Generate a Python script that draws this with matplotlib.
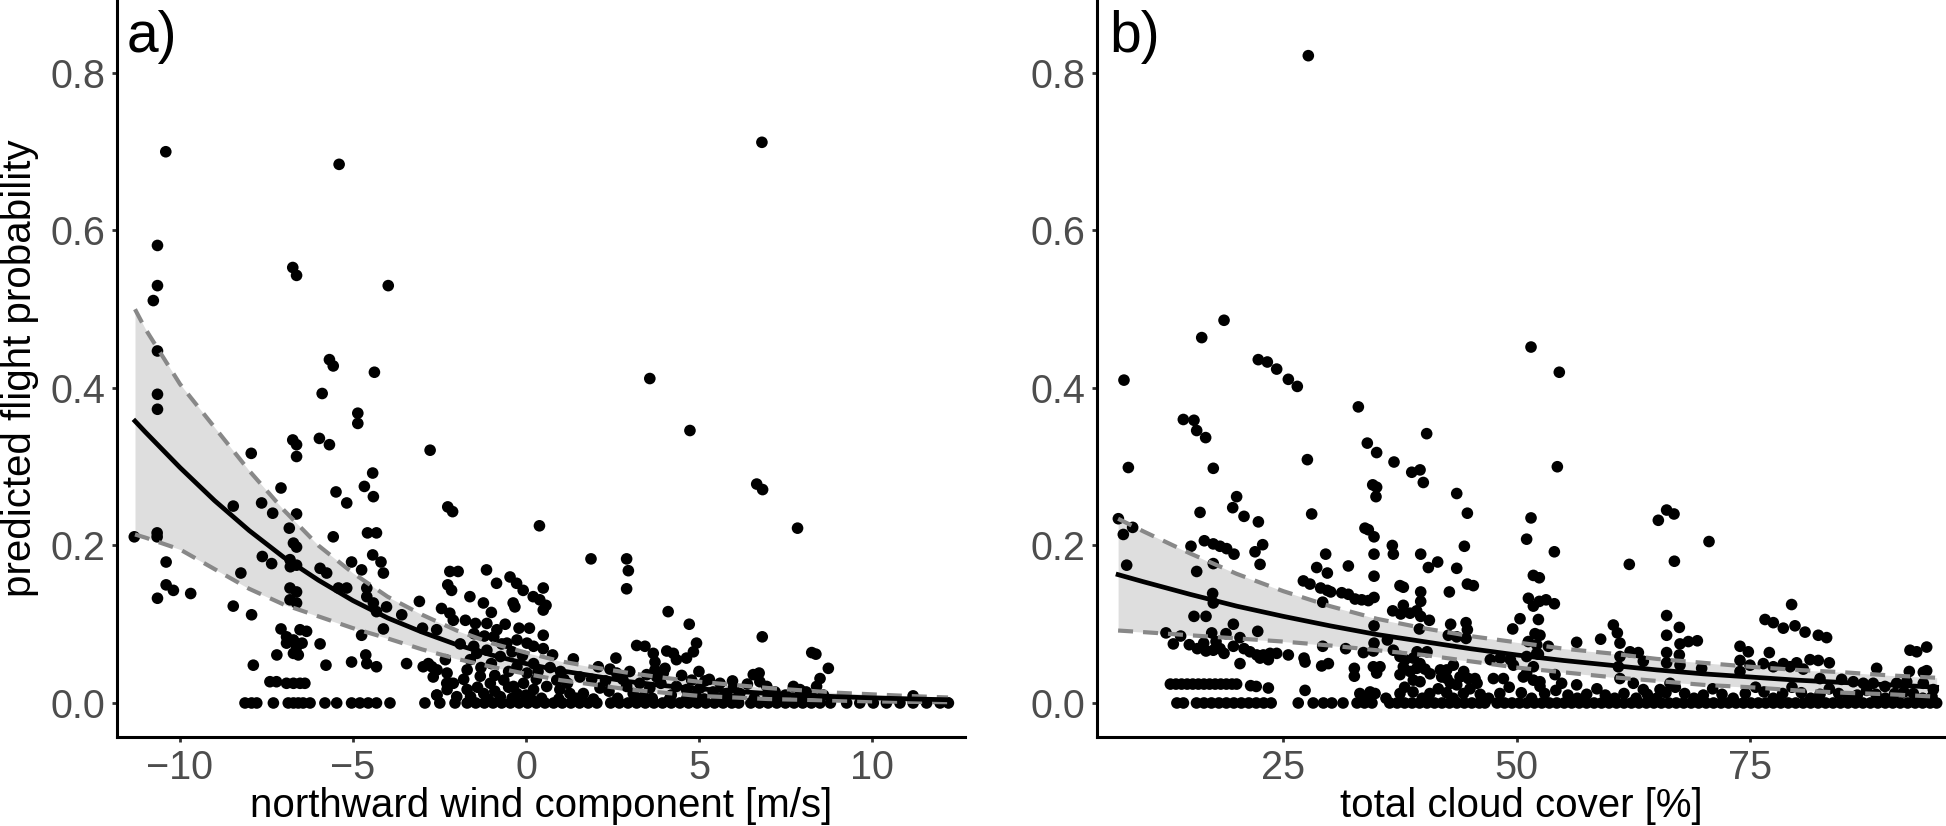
import matplotlib
matplotlib.use("Agg")
import matplotlib.pyplot as plt
import numpy as np

plt.rcParams['font.family'] = ['Liberation Sans', 'DejaVu Sans']

# ---- panel a: northward wind component ----
# fitted curve and confidence band
wind_grid = [-11.3, -11, -10, -9, -8, -7, -6, -5, -4, -3, -2, -1, 0,
             1, 2, 3, 4, 5, 6, 7, 8, 9, 10, 11, 12.2]
wind_fit = [0.358, 0.344, 0.299, 0.257, 0.219, 0.185, 0.156, 0.130, 0.108, 0.090,
            0.074, 0.061, 0.050, 0.041, 0.034, 0.027, 0.022, 0.018, 0.015, 0.012,
            0.0098, 0.0080, 0.0065, 0.0053, 0.0041]
wind_upper = [0.500, 0.475, 0.405, 0.350, 0.295, 0.245, 0.200, 0.165, 0.135, 0.112,
              0.092, 0.076, 0.064, 0.053, 0.045, 0.038, 0.032, 0.027, 0.023, 0.019,
              0.016, 0.013, 0.011, 0.009, 0.007]
wind_lower = [0.214, 0.210, 0.195, 0.170, 0.145, 0.125, 0.110, 0.095, 0.082, 0.068,
              0.056, 0.046, 0.037, 0.029, 0.023, 0.017, 0.013, 0.009, 0.007, 0.005,
              0.004, 0.003, 0.002, 0.0015, 0.001]

# observed points (wind, predicted probability)
wind_points = [
    (-10.41, 0.700), (-5.40, 0.684), (6.82, 0.712), (-10.65, 0.581), (-6.74, 0.553),
    (-6.63, 0.543), (-3.98, 0.530), (-10.65, 0.530), (-10.77, 0.511), (-10.65, 0.447),
    (-5.68, 0.436), (-5.57, 0.428), (-4.38, 0.420), (3.58, 0.412), (-10.65, 0.392),
    (-10.65, 0.373), (-5.89, 0.393), (-4.86, 0.368), (-4.86, 0.355), (4.74, 0.346),
    (-6.74, 0.334), (-6.63, 0.328), (-6.63, 0.313), (-5.97, 0.336), (-5.68, 0.328),
    (-2.77, 0.321), (-7.94, 0.317), (-4.43, 0.292), (-4.67, 0.275), (-4.41, 0.262),
    (-7.08, 0.273), (-5.49, 0.268), (-5.18, 0.254), (-2.26, 0.249), (-2.12, 0.243),
    (-8.46, 0.250), (-7.64, 0.254), (-7.32, 0.241), (-6.63, 0.240), (-6.84, 0.222),
    (0.39, 0.225), (6.67, 0.278), (6.84, 0.271), (7.85, 0.222),
    (-10.66, 0.216), (-10.66, 0.211), (-11.32, 0.211), (-5.57, 0.211), (-4.58, 0.216),
    (-4.32, 0.216), (-6.72, 0.203), (-6.63, 0.198), (-10.40, 0.179), (-7.62, 0.186),
    (-7.35, 0.177), (-6.82, 0.182), (-6.63, 0.175), (-6.81, 0.173), (-5.04, 0.179),
    (-4.43, 0.188), (-4.19, 0.179), (-4.12, 0.165), (-4.75, 0.169), (-8.24, 0.165),
    (-5.95, 0.171), (-5.76, 0.165), (1.88, 0.183), (2.91, 0.183), (2.96, 0.168),
    (2.91, 0.145),
    (-10.40, 0.150), (-10.19, 0.143), (-9.69, 0.139), (-10.65, 0.133), (-8.46, 0.123),
    (-7.93, 0.112), (-6.82, 0.146), (-6.63, 0.141), (-6.82, 0.131), (-6.63, 0.127),
    (-5.42, 0.146), (-5.18, 0.146), (-4.60, 0.146), (-4.60, 0.135), (-3.08, 0.129),
    (-1.14, 0.169), (-0.85, 0.152), (-0.46, 0.160), (-0.27, 0.152), (-0.08, 0.143),
    (0.21, 0.135), (0.40, 0.131), (-2.20, 0.167), (-1.96, 0.167), (-2.26, 0.150),
    (-2.15, 0.143), (-1.62, 0.135), (-1.23, 0.127), (-0.37, 0.127), (-0.32, 0.122),
    (0.50, 0.146), (0.50, 0.118), (0.58, 0.124), (-2.44, 0.120), (-2.20, 0.114),
    (-2.10, 0.105), (-3.59, 0.112), (-4.41, 0.127), (-4.03, 0.122), (-4.32, 0.116),
    (-4.12, 0.094), (-4.75, 0.086), (4.11, 0.116), (4.72, 0.100), (6.83, 0.084),
    (8.26, 0.064), (8.38, 0.062), (8.74, 0.044),
    (-7.08, 0.094), (-6.92, 0.084), (-6.72, 0.080), (-6.53, 0.093), (-6.34, 0.091),
    (-6.63, 0.071), (-6.92, 0.076), (-6.72, 0.063), (-7.20, 0.061), (-6.58, 0.061),
    (-6.47, 0.076), (-5.95, 0.075), (-2.99, 0.095), (-2.58, 0.093), (-7.88, 0.048),
    (-5.78, 0.048), (-5.04, 0.052), (-4.63, 0.061), (-4.60, 0.050), (-4.32, 0.046),
    (-3.45, 0.050), (-2.97, 0.046), (-2.82, 0.050),
    (-7.40, 0.027), (-7.21, 0.027), (-6.92, 0.025), (-6.72, 0.025), (-6.53, 0.025),
    (-6.39, 0.025), (-2.68, 0.033), (-2.29, 0.025), (-2.10, 0.025), (-2.58, 0.010),
    (-1.75, 0.105), (-1.46, 0.101), (-1.13, 0.101), (-0.84, 0.093), (-0.93, 0.084),
    (-0.55, 0.076), (-0.26, 0.080), (0.03, 0.076), (0.22, 0.072), (-1.51, 0.072),
    (-1.42, 0.063), (-1.61, 0.055), (-1.13, 0.067), (-0.74, 0.059), (-0.40, 0.065),
    (-0.26, 0.046), (0.03, 0.038), (0.22, 0.050), (-2.57, 0.042), (-2.28, 0.038),
    (-2.19, 0.025), (-1.70, 0.042), (-1.32, 0.034), (-1.03, 0.025), (-0.64, 0.029),
    (-0.36, 0.021), (-0.07, 0.025), (0.22, 0.017), (-2.72, 0.046), (-2.33, 0.055),
    (-2.28, 0.017), (-2.57, 0.010), (-1.70, 0.017), (-1.22, 0.012), (-0.74, 0.008),
    (-0.26, 0.012), (-1.50, 0.088), (-1.00, 0.050), (-0.50, 0.040), (-1.30, 0.045),
    (-0.90, 0.035), (-0.10, 0.060), (0.10, 0.095), (-0.60, 0.100), (-1.90, 0.075),
    (-1.80, 0.030), (-1.40, 0.020), (-0.90, 0.015), (-0.50, 0.020), (0.00, 0.010),
    (0.30, 0.030), (-1.60, 0.008), (-1.10, 0.005), (-0.40, 0.006), (0.15, 0.005),
    (-2.00, 0.008), (-1.20, 0.085), (-0.70, 0.075), (-0.20, 0.095), (-1.00, 0.115),
    (0.50, 0.086), (0.50, 0.069), (0.77, 0.061), (1.37, 0.056), (2.09, 0.046),
    (2.43, 0.043), (2.60, 0.057), (3.20, 0.073), (3.44, 0.072), (3.68, 0.063),
    (3.73, 0.052), (4.02, 0.044), (3.73, 0.042), (4.07, 0.066), (4.26, 0.063),
    (4.35, 0.055), (4.64, 0.057), (4.84, 0.065), (4.93, 0.076), (8.50, 0.031),
    (8.40, 0.021), (6.57, 0.036), (6.74, 0.038), (6.76, 0.027), (6.96, 0.021),
    (7.73, 0.021), (7.92, 0.017), (4.79, 0.029), (5.17, 0.028), (5.61, 0.025),
    (5.97, 0.028), (3.49, 0.036), (3.78, 0.033), (3.97, 0.038), (1.56, 0.033),
    (2.14, 0.019), (2.62, 0.038), (2.91, 0.021), (0.89, 0.029), (0.98, 0.017),
    (0.60, 0.021), (1.27, 0.012), (1.66, 0.012), (3.29, 0.025), (3.58, 0.019),
    (4.35, 0.021), (4.64, 0.017), (5.03, 0.019), (5.41, 0.014), (5.80, 0.012),
    (6.18, 0.012), (11.19, 0.009), (0.70, 0.045), (1.00, 0.040), (1.20, 0.025),
    (1.90, 0.030), (2.40, 0.015), (2.80, 0.030), (3.10, 0.012), (3.40, 0.008),
    (3.90, 0.025), (4.20, 0.010), (4.50, 0.035), (4.90, 0.010), (5.30, 0.030),
    (5.70, 0.008), (6.00, 0.020), (7.00, 0.008), (7.50, 0.010), (8.00, 0.008),
    (8.60, 0.010), (0.45, 0.006), (0.95, 0.005), (1.45, 0.006), (1.95, 0.005),
    (2.65, 0.006), (3.15, 0.005), (3.65, 0.006), (4.15, 0.005), (4.65, 0.006),
    (5.15, 0.005), (5.65, 0.006), (6.05, 0.005), (6.60, 0.006), (7.25, 0.005),
    (7.80, 0.005), (8.30, 0.006), (0.35, 0.040), (1.10, 0.030), (2.30, 0.028),
    (3.00, 0.040), (5.00, 0.040), (6.40, 0.024), (7.20, 0.014), (8.10, 0.014),
]
# points sitting on zero probability
wind_zero = [-8.12, -7.93, -7.78, -7.30, -6.87, -6.72, -6.58, -6.44, -6.24, -5.81,
             -5.47, -5.04, -4.80, -4.56, -4.32, -3.93, -2.92, -2.49, -2.05,
             -1.70, -1.45, -1.20, -0.95, -0.70, -0.45, -0.20, 0.05, 0.30, 0.55,
             0.80, 1.05, 1.30, 1.55, 1.80, 2.05, 2.45, 2.70, 2.95, 3.20, 3.45,
             3.70, 3.95, 4.20, 4.45, 4.70, 4.95, 5.20, 5.45, 5.70, 5.95, 6.15,
             6.50, 6.75, 7.00, 7.25, 7.50, 7.75, 8.00, 8.25, 8.50, 8.80,
             9.27, 9.65, 10.04, 10.42, 10.81, 11.19, 11.58, 11.97, 12.21]

# ---- panel b: total cloud cover ----
cloud_grid = [7.3, 10, 15, 20, 25, 30, 35, 40, 45, 50, 55, 60, 65, 70, 75,
              80, 85, 90, 95]
cloud_fit = [0.163, 0.154, 0.138, 0.123, 0.110, 0.098, 0.087, 0.078, 0.069, 0.061,
             0.054, 0.048, 0.042, 0.037, 0.033, 0.029, 0.026, 0.023, 0.020]
cloud_upper = [0.234, 0.218, 0.190, 0.164, 0.142, 0.123, 0.107, 0.095, 0.085, 0.077,
               0.069, 0.063, 0.056, 0.051, 0.046, 0.042, 0.039, 0.035, 0.032]
cloud_lower = [0.092, 0.090, 0.086, 0.082, 0.078, 0.073, 0.067, 0.061, 0.053, 0.045,
               0.039, 0.033, 0.028, 0.023, 0.020, 0.016, 0.013, 0.011, 0.008]

cloud_points = [
    (27.68, 0.822), (18.65, 0.486), (16.26, 0.464), (22.32, 0.436), (23.29, 0.433),
    (24.29, 0.424), (25.54, 0.411), (26.50, 0.402), (7.93, 0.410), (33.04, 0.376),
    (51.54, 0.452), (54.57, 0.420), (14.29, 0.360), (15.43, 0.359), (15.72, 0.346),
    (16.68, 0.337), (40.36, 0.342), (34.00, 0.330), (35.00, 0.318), (8.40, 0.299),
    (17.50, 0.298), (27.58, 0.309), (36.86, 0.306), (38.76, 0.293), (39.65, 0.296),
    (40.00, 0.280), (34.58, 0.277), (35.00, 0.274), (34.93, 0.262), (43.58, 0.266),
    (44.72, 0.241), (54.36, 0.300),
    (51.54, 0.235), (20.00, 0.262), (19.58, 0.248), (20.79, 0.237), (22.33, 0.230),
    (16.08, 0.242), (28.04, 0.240), (7.33, 0.234), (7.86, 0.214), (8.86, 0.223),
    (8.22, 0.175), (33.75, 0.222), (34.11, 0.220), (34.72, 0.211), (54.04, 0.192),
    (51.07, 0.208), (15.11, 0.199), (16.54, 0.206), (17.50, 0.202), (18.22, 0.199),
    (18.93, 0.196), (19.72, 0.189), (21.97, 0.192), (22.79, 0.201), (22.51, 0.176),
    (17.50, 0.177), (15.72, 0.167), (29.54, 0.189), (29.72, 0.165), (28.58, 0.172),
    (31.97, 0.174), (34.72, 0.189), (34.72, 0.161), (36.68, 0.200), (36.79, 0.189),
    (39.72, 0.189), (41.54, 0.179), (40.54, 0.172), (43.58, 0.171), (44.40, 0.199),
    (44.72, 0.151), (45.36, 0.149), (51.79, 0.162), (52.43, 0.159), (37.50, 0.149),
    (37.86, 0.147), (42.79, 0.141), (27.15, 0.155), (27.86, 0.151), (29.00, 0.146),
    (29.72, 0.143), (30.08, 0.141), (31.26, 0.140), (31.97, 0.138), (32.69, 0.132),
    (33.40, 0.131), (34.11, 0.130), (34.72, 0.134), (29.22, 0.128), (17.43, 0.139),
    (17.50, 0.127), (39.72, 0.141), (39.72, 0.129), (37.86, 0.124), (36.72, 0.117),
    (37.58, 0.113), (38.58, 0.114), (39.29, 0.117), (39.72, 0.110), (40.65, 0.105),
    (39.58, 0.094), (51.26, 0.133), (51.79, 0.123), (52.43, 0.129), (53.15, 0.131),
    (54.04, 0.126), (52.33, 0.106), (50.36, 0.107), (49.58, 0.094), (42.93, 0.100),
    (42.68, 0.086), (44.58, 0.102), (44.72, 0.093), (44.58, 0.082), (43.58, 0.084),
    (34.72, 0.098), (34.72, 0.076), (36.15, 0.080), (15.43, 0.110), (16.72, 0.110),
    (19.65, 0.100), (18.86, 0.088), (20.36, 0.083), (19.65, 0.072), (12.43, 0.089),
    (13.22, 0.075), (14.00, 0.085), (14.93, 0.074), (15.79, 0.069), (16.72, 0.066),
    (17.50, 0.067), (18.22, 0.069), (17.79, 0.078), (17.33, 0.089), (22.26, 0.091),
    (20.79, 0.069), (21.43, 0.065), (22.15, 0.061), (22.86, 0.061), (23.58, 0.063),
    (24.29, 0.063), (25.54, 0.061), (22.51, 0.057), (23.40, 0.055), (20.36, 0.050),
    (18.65, 0.063), (27.22, 0.057), (27.33, 0.052), (29.22, 0.072), (29.83, 0.050),
    (29.11, 0.047), (31.68, 0.069), (33.58, 0.064), (34.65, 0.066), (36.79, 0.067),
    (32.61, 0.044), (32.61, 0.034), (34.65, 0.046), (35.00, 0.038), (35.36, 0.046),
    (37.50, 0.059), (38.04, 0.055), (38.93, 0.057), (37.86, 0.046), (37.50, 0.036),
    (38.58, 0.040), (38.93, 0.029), (39.29, 0.044), (39.65, 0.050), (40.18, 0.043),
    (40.72, 0.037), (39.65, 0.027), (41.97, 0.033), (42.51, 0.042), (43.22, 0.048),
    (43.93, 0.033), (44.83, 0.031), (45.54, 0.031), (43.58, 0.023), (47.51, 0.031),
    (48.58, 0.031), (49.65, 0.048), (50.72, 0.033), (51.07, 0.059), (52.15, 0.063),
    (51.79, 0.046), (52.50, 0.027), (27.33, 0.016), (34.29, 0.012), (33.93, 0.006),
    (34.83, 0.012), (16.47, 0.076), (40.40, 0.065), (39.33, 0.065), (41.83, 0.042),
    (42.54, 0.031), (44.33, 0.040), (42.90, 0.025), (45.76, 0.025), (47.18, 0.055),
    (48.25, 0.057), (49.33, 0.055),
    (51.97, 0.088), (52.50, 0.086), (51.25, 0.078), (52.15, 0.074), (53.40, 0.072),
    (52.33, 0.062), (56.43, 0.077), (59.00, 0.081), (60.36, 0.099), (60.79, 0.089),
    (61.07, 0.076), (61.07, 0.059), (60.90, 0.046), (61.07, 0.031), (62.07, 0.176),
    (62.15, 0.065), (63.04, 0.064), (63.57, 0.053), (65.18, 0.232), (66.07, 0.245),
    (66.86, 0.240), (66.90, 0.180), (70.61, 0.205), (66.07, 0.111), (66.07, 0.086),
    (67.43, 0.096), (66.07, 0.064), (67.50, 0.075), (68.40, 0.078), (69.36, 0.079),
    (67.43, 0.061), (66.07, 0.051), (67.50, 0.048), (69.82, 0.044), (54.11, 0.036),
    (54.82, 0.025), (56.43, 0.023), (51.07, 0.038), (51.79, 0.029), (52.50, 0.021),
    (62.50, 0.025), (63.57, 0.017), (65.36, 0.017), (66.43, 0.025), (73.93, 0.072),
    (74.82, 0.065), (73.93, 0.054), (75.00, 0.048), (73.93, 0.040), (77.07, 0.064),
    (76.43, 0.050), (77.50, 0.046), (78.57, 0.050), (79.29, 0.046), (80.00, 0.051),
    (80.71, 0.043), (76.61, 0.106), (77.50, 0.102), (78.57, 0.095), (79.82, 0.098),
    (80.90, 0.090), (82.32, 0.086), (83.21, 0.083), (79.46, 0.125), (81.43, 0.055),
    (82.32, 0.054), (83.50, 0.051), (82.50, 0.031), (84.82, 0.030), (86.07, 0.027),
    (87.14, 0.025), (88.20, 0.025), (89.46, 0.021), (88.57, 0.044), (92.14, 0.067),
    (92.86, 0.065), (93.93, 0.071), (92.07, 0.040), (93.57, 0.039), (93.93, 0.041),
    (90.71, 0.025), (91.79, 0.027), (93.57, 0.025), (94.64, 0.017),
    (12.9, 0.024), (13.5, 0.024), (14.1, 0.024), (14.7, 0.024), (15.3, 0.024),
    (15.9, 0.024), (16.5, 0.024), (17.1, 0.024), (17.7, 0.024), (18.3, 0.024),
    (18.9, 0.024), (19.5, 0.024), (20.0, 0.024), (21.5, 0.022), (22.1, 0.021),
    (23.4, 0.019),
    (33.2, 0.012), (34.3, 0.014), (37.5, 0.012), (38.9, 0.014), (40.7, 0.012),
    (42.5, 0.013), (44.3, 0.012), (46.1, 0.011), (48.2, 0.012), (50.5, 0.013),
    (53.0, 0.012), (55.5, 0.010), (57.5, 0.011), (59.5, 0.010), (61.5, 0.012),
    (64.0, 0.011), (66.0, 0.013), (68.0, 0.012), (70.0, 0.010), (72.0, 0.011),
    (74.5, 0.012), (76.5, 0.014), (78.5, 0.012), (80.5, 0.013), (82.5, 0.011),
    (84.5, 0.012), (86.5, 0.010), (88.5, 0.011), (90.5, 0.012), (92.5, 0.012),
    (94.5, 0.008),
    (36.0, 0.006), (38.0, 0.020), (39.9, 0.006), (41.6, 0.018), (43.2, 0.006),
    (45.0, 0.018), (47.0, 0.006), (49.2, 0.020), (51.6, 0.006), (54.2, 0.016),
    (56.5, 0.006), (58.6, 0.018), (60.5, 0.006), (62.8, 0.006), (65.0, 0.006),
    (67.0, 0.020), (69.0, 0.006), (71.0, 0.018), (73.2, 0.006), (75.6, 0.020),
    (77.5, 0.006), (79.5, 0.020), (81.5, 0.006), (83.5, 0.018), (85.5, 0.006),
    (87.5, 0.016), (89.5, 0.006), (91.5, 0.014), (93.5, 0.006),
]
cloud_zero = [13.6, 14.3, 15.7, 16.5, 17.3, 18.1, 18.9, 19.7, 20.5, 21.3, 22.1,
              22.9, 23.7, 26.6, 28.2, 29.3, 30.2, 31.4, 32.9, 33.7, 34.5, 36.4,
              37.2, 38.0, 38.8, 39.6, 40.4, 41.2, 42.0, 42.8, 43.6, 44.4, 45.2,
              46.0, 46.6, 47.9, 48.7, 49.5, 50.3, 51.1, 51.9, 52.7, 53.5, 54.3,
              55.1, 55.9, 56.7, 57.5, 58.3, 59.1, 59.9, 60.7, 61.5, 62.3, 63.1,
              63.9, 64.7, 65.5, 66.3, 67.1, 67.9, 68.7, 69.5, 70.3, 71.1, 71.9,
              72.7, 73.5, 74.3, 75.1, 75.9, 76.7, 77.5, 78.3, 79.1, 79.9, 80.7,
              81.5, 82.3, 83.1, 83.9, 84.7, 85.5, 86.3, 87.1, 87.9, 88.7, 89.5,
              90.3, 91.1, 91.9, 92.7, 93.5, 94.3, 95.0]

W, H = 1946, 826
fig = plt.figure(figsize=(W / 100, H / 100), dpi=100)

ax_a = fig.add_axes([117 / W, 1 - 737 / H, (965 - 117) / W, 737 / H])
ax_b = fig.add_axes([1097 / W, 1 - 737 / H, (W - 1097) / W, 737 / H])


def draw_panel(ax, grid, fit, upper, lower, pts, zero_x):
    px = [p[0] for p in pts] + list(zero_x)
    py = [p[1] for p in pts] + [0.0] * len(zero_x)
    ax.fill_between(grid, lower, upper, color='#DEDEDE', lw=0, zorder=1)
    ax.scatter(px, py, s=70, color='black', edgecolors='none', zorder=2)
    ax.plot(grid, upper, color='#888888', lw=3.0, ls=(0, (3.6, 2.4)), zorder=3)
    ax.plot(grid, lower, color='#888888', lw=3.0, ls=(0, (3.6, 2.4)), zorder=3)
    ax.plot(grid, fit, color='black', lw=3.4, zorder=4)
    for s in ['top', 'right']:
        ax.spines[s].set_visible(False)
    for s in ['left', 'bottom']:
        ax.spines[s].set_linewidth(2.2)
        ax.spines[s].set_color('black')
    ax.tick_params(length=3.6, width=2.0, color='#333333', pad=5,
                   labelsize=28.5, labelcolor='#4D4D4D')
    ax.set_ylim(-0.0432, 0.8927)
    ax.set_yticks([0.0, 0.2, 0.4, 0.6, 0.8])
    ax.set_yticklabels(['0.0', '0.2', '0.4', '0.6', '0.8'])


draw_panel(ax_a, wind_grid, wind_fit, wind_upper, wind_lower, wind_points, wind_zero)
ax_a.set_xlim(-11.82, 12.69)
ax_a.set_xticks([-10, -5, 0, 5, 10])
ax_a.set_xlabel('northward wind component [m/s]', fontsize=29, labelpad=0)
ax_a.set_ylabel('predicted flight probability', fontsize=29, labelpad=8)

draw_panel(ax_b, cloud_grid, cloud_fit, cloud_upper, cloud_lower, cloud_points, cloud_zero)
ax_b.set_xlim(5.04, 96.0)
ax_b.set_xticks([25, 50, 75])
ax_b.set_xlabel('total cloud cover [%]', fontsize=29, labelpad=0)

fig.text(127 / W, 1 - 10 / H, 'a)', fontsize=41, va='top', ha='left')
fig.text(1109 / W, 1 - 10 / H, 'b)', fontsize=41, va='top', ha='left')

fig.savefig('out.png', dpi=100)
